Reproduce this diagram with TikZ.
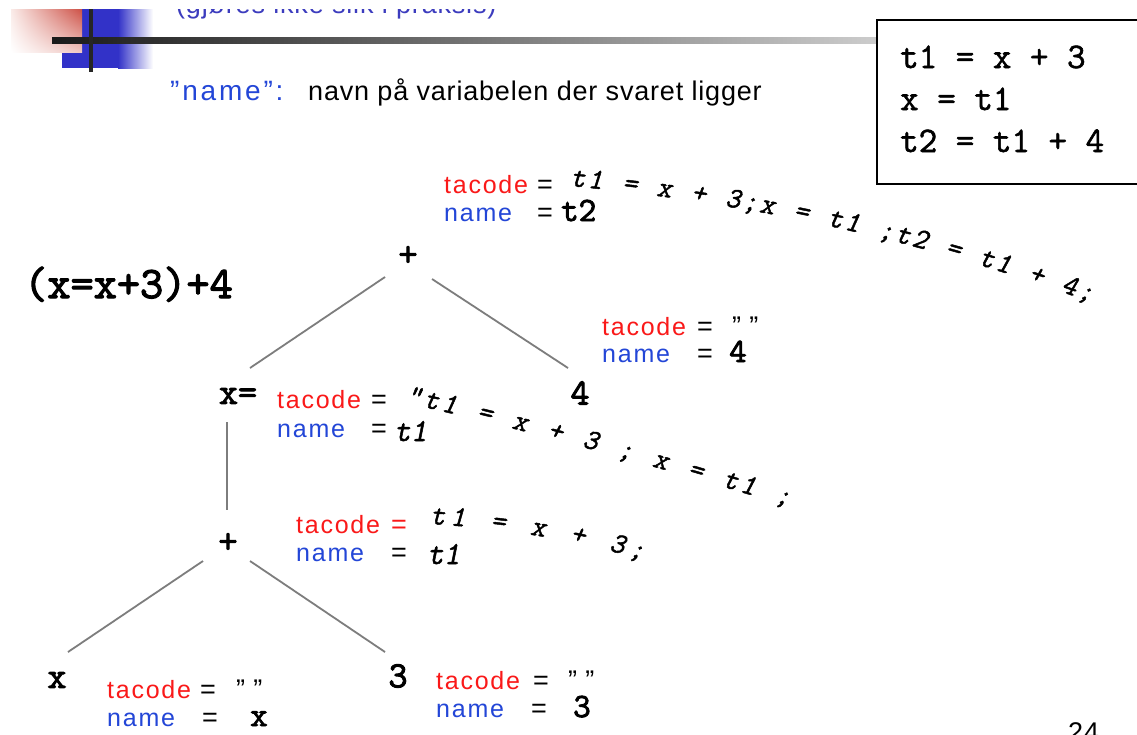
\documentclass[tikz,border=0pt]{standalone}
\usepackage{fontspec}
\setmainfont{Liberation Sans}
\newfontfamily\spaced[LetterSpace=7]{Liberation Sans}
\newfontfamily\wide[LetterSpace=10]{Liberation Sans}
\newfontfamily\slight[LetterSpace=3]{Liberation Sans}
\newfontfamily\monob[FakeBold=1.6]{Latin Modern Mono}
\newfontfamily\monobb[FakeBold=2.6]{Latin Modern Mono}
\newfontfamily\monosl[FakeBold=1.6,FakeSlant=0.2]{Latin Modern Mono}
\usetikzlibrary{decorations.text,shadings}
\definecolor{tred}{RGB}{250,25,25}
\definecolor{tblue}{RGB}{35,70,215}
\definecolor{hblue}{RGB}{60,60,190}
\definecolor{edgegray}{RGB}{125,125,125}
\definecolor{blockblue}{RGB}{50,50,200}
\definecolor{blockred}{RGB}{205,80,70}
\definecolor{palered}{RGB}{240,200,195}
\definecolor{faintred}{RGB}{250,235,232}
\newcommand\curvfont{\monosl\fontsize{29}{31}\selectfont}
\begin{document}
\begin{tikzpicture}[x=1pt,y=-1pt,
  lbl/.style={anchor=base west, inner sep=0pt, font=\slight\fontsize{27}{30}\selectfont},
  tac/.style={anchor=base west, inner sep=0pt, font=\spaced\fontsize{25}{28}\selectfont, text=tred},
  nam/.style={anchor=base west, inner sep=0pt, font=\spaced\fontsize{25}{28}\selectfont, text=tblue},
  val/.style={anchor=base west, inner sep=0pt, font=\monobb\fontsize{34}{36}\selectfont},
  hval/.style={anchor=base west, inner sep=0pt, font=\monosl\fontsize{32}{34}\selectfont},
  code/.style={anchor=base west, inner sep=0pt, font=\monob\fontsize{36}{38}\selectfont},
  treenode/.style={inner sep=0pt, font=\monobb\fontsize{37}{39}\selectfont},
  edgeline/.style={draw=edgegray, line width=1.8pt},
  curv/.style={decorate, decoration={text along path, text align={fit to path}, text={|\curvfont|#1}}}
]
\useasboundingbox (0,0) rectangle (1137,734);
\clip (0,0) rectangle (1137,734);
\fill[white] (0,0) rectangle (1137,734);

% title decoration
\fill[blockblue] (62,9) rectangle (119,68);
\shade[left color=blockblue, right color=white] (118,9) rectangle (153,68);
\shade[upper left=faintred, upper right=blockred, lower left=white, lower right=palered] (11,9) rectangle (82,52);
\shade[left color=black!90, right color=black!20] (52,37) rectangle (877,43);
\fill[black!85] (89,9) rectangle (93,72);

\begin{scope}
\clip (0,9) rectangle (1137,60);
\node[anchor=base west, inner sep=0pt, font=\slight\fontsize{27}{30}\selectfont, text=hblue] (sub) at (176,13) {(gjøres ikke slik i praksis)};
\end{scope}
\node[anchor=base west, inner sep=0pt, font=\wide\fontsize{28}{30}\selectfont, text=tblue] (hname) at (170,100) {”name”:};
\node[lbl] (hdesc) at (308,100) {navn på variabelen der svaret ligger};

% code box
\draw[line width=1.3pt] (877,20) rectangle (1150,184);
\node[code] (c1) at (900,68) {t1 = x + 3};
\node[code] (c2) at (900,110) {x = t1};
\node[code] (c3) at (900,152) {t2 = t1 + 4};

% expression
\node[anchor=base west, inner sep=0pt, font=\monobb\fontsize{45}{47}\selectfont] (expr) at (24,298) {(x=x+3)+4};

% tree nodes
\node[treenode] (plusA) at (408,256) {+};
\node[treenode] (xeq) at (238,396) {x=};
\node[treenode] (four) at (580,393) {4};
\node[treenode] (plusB) at (228,543) {+};
\node[treenode] (xleaf) at (57,680) {x};
\node[treenode] (three) at (398,676) {3};

% edges
\coordinate (e1a) at (385,277); \coordinate (e1b) at (250,368);
\coordinate (e2a) at (432,279); \coordinate (e2b) at (568,368);
\coordinate (e3a) at (227,422); \coordinate (e3b) at (227,510);
\coordinate (e4a) at (203,561); \coordinate (e4b) at (68,652);
\coordinate (e5a) at (250,561); \coordinate (e5b) at (385,652);
\draw[edgeline] (e1a) -- (e1b);
\draw[edgeline] (e2a) -- (e2b);
\draw[edgeline] (e3a) -- (e3b);
\draw[edgeline] (e4a) -- (e4b);
\draw[edgeline] (e5a) -- (e5b);

% top annotation
\node[tac] (tA) at (444,193) {tacode};
\node[lbl] (tAeq) at (537,193) {=};
\node[nam] (nA) at (444,221) {name};
\node[lbl] (nAeq) at (537,221) {=};
\node[val] (nAv) at (561,221) {t2};
\path[curv={t1 = x + 3;x = t1 ;t2 = t1 + 4;}] (570,186) .. controls (720,200) and (900,232) .. (1090,302);

% right annotation (4)
\node[tac] (tR) at (602,335) {tacode};
\node[lbl] (tReq) at (697,335) {=};
\node[lbl] (tRq) at (732,335) {” ”};
\node[nam] (nR) at (602,362) {name};
\node[lbl] (nReq) at (697,362) {=};
\node[val] (nRv) at (729,362) {4};

% middle annotation (x=)
\node[tac] (tM) at (277,408) {tacode};
\node[lbl] (tMeq) at (371,408) {=};
\node[nam] (nM) at (277,437) {name};
\node[lbl] (nMeq) at (371,437) {=};
\node[hval] (nMv) at (394,441) {t1};
\path[curv={"t1 = x + 3 ; x = t1 ;}] (405,403) .. controls (530,430) and (660,468) .. (788,506);

% lower annotation (+)
\node[tac] (tL) at (296,533) {tacode};
\node[lbl, text=tred] (tLeq) at (391,533) {=};
\node[nam] (nL) at (296,561) {name};
\node[lbl] (nLeq) at (391,561) {=};
\node[hval] (nLv) at (427,564) {t1};
\path[curv={t1 = x + 3;}] (430,524) .. controls (500,528) and (580,540) .. (642,560);

% bottom left (x)
\node[tac] (tX) at (107,698) {tacode};
\node[lbl] (tXeq) at (200,698) {=};
\node[lbl] (tXq) at (236,698) {” ”};
\node[nam] (nX) at (107,726) {name};
\node[lbl] (nXeq) at (202,726) {=};
\node[val] (nXv) at (250,726) {x};

% bottom right (3)
\node[tac] (t3) at (436,689) {tacode};
\node[lbl] (t3eq) at (533,689) {=};
\node[lbl] (t3q) at (568,689) {” ”};
\node[nam] (n3) at (436,717) {name};
\node[lbl] (n3eq) at (531,717) {=};
\node[val] (n3v) at (573,717) {3};

% page number
\node[lbl] (page) at (1068,741) {24};
\end{tikzpicture}
\end{document}
